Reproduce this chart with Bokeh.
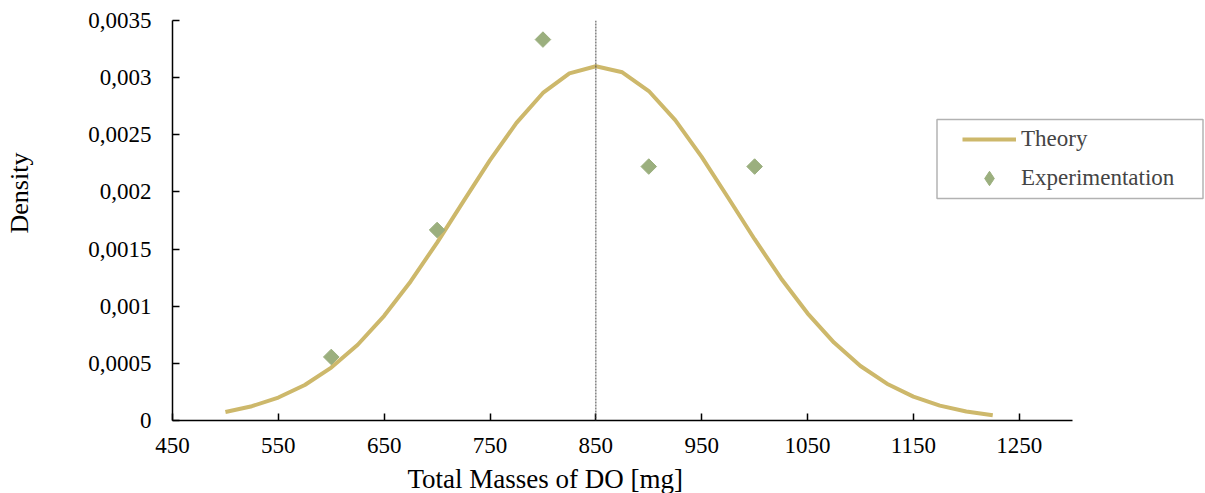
from bokeh.plotting import figure
from bokeh.models import (Legend, LegendItem, Span, Title, FixedTicker, CustomJSTickFormatter,
                          Range1d, LinearAxis, BoxAnnotation)
from bokeh.embed import file_html
from bokeh.resources import INLINE

# Theory curve
theory_x = [500, 525, 550, 575, 600, 625, 650, 675, 700, 725, 750, 775, 800, 825, 850,
            875, 900, 925, 950, 975, 1000, 1025, 1050, 1075, 1100, 1125, 1150, 1175, 1200, 1225]
theory_y = [0.000075, 0.000125, 0.000201, 0.000311, 0.000463, 0.000663, 0.000916, 0.001217,
            0.001557, 0.00192, 0.002278, 0.002604, 0.002866, 0.003037, 0.0031, 0.003047,
            0.002883, 0.002628, 0.002306, 0.001949, 0.001586, 0.001243, 0.000938, 0.000682,
            0.000477, 0.000322, 0.000209, 0.00013, 0.000079, 0.000046]

# Experimental points
exp_x = [600, 700, 800, 900, 1000]
exp_y = [0.000556, 0.001667, 0.003333, 0.002222, 0.002222]

mean_value = 850
x_ticks = [450, 550, 650, 750, 850, 950, 1050, 1150, 1250]
y_ticks = [0, 0.0005, 0.001, 0.0015, 0.002, 0.0025, 0.003, 0.0035]

FONT = "Liberation Serif"
CURVE = "#CDB86B"
POINT = "#9BAF7E"

p = figure(width=1205, height=493, output_backend="svg", toolbar_location=None,
           x_range=Range1d(450, 1426), y_range=Range1d(0, 0.0035),
           min_border_left=172, min_border_right=0, min_border_top=20, min_border_bottom=73)
p.outline_line_color = None
p.xgrid.visible = False
p.ygrid.visible = False

line_r = p.line(theory_x, theory_y, line_color=CURVE, line_width=4)
# diamond marker (used for the legend glyph), hidden under the rotated squares
leg_r = p.scatter(exp_x, exp_y, marker="diamond", size=12, fill_color=POINT, line_color=POINT)
pts_r = p.scatter(exp_x, exp_y, marker="square", size=11, angle=0.785398,
                  fill_color=POINT, line_color=POINT)

p.add_layout(Span(location=mean_value, dimension="height", line_color="#444444",
                  line_dash="2 1", line_width=1))

for ax in (p.xaxis[0], p.yaxis[0]):
    ax.axis_line_color = "black"
    ax.axis_line_width = 1.5
    ax.major_tick_in = 7
    ax.major_tick_out = 0
    ax.major_tick_line_color = "black"
    ax.major_tick_line_width = 1.5
    ax.minor_tick_line_color = None
    ax.major_label_text_font = FONT
    ax.major_label_text_font_size = "23px"
    ax.major_label_text_color = "black"

p.xaxis.ticker = FixedTicker(ticks=x_ticks)
p.xaxis.bounds = (450, 1300)
p.yaxis.ticker = FixedTicker(ticks=y_ticks)
p.xaxis.major_label_standoff = 17
p.yaxis.major_label_standoff = 21
p.yaxis.formatter = CustomJSTickFormatter(code="""
var s = tick.toFixed(4).replace(/0+$/, '').replace(/\\.$/, '');
return s.replace('.', ',');
""")

def spacer(size, tick):
    # invisible axis used only to reserve space in a side panel
    return LinearAxis(ticker=FixedTicker(ticks=[tick]),
                      formatter=CustomJSTickFormatter(code="return '';"),
                      axis_line_color=None, major_label_standoff=0,
                      major_tick_line_color="white", minor_tick_line_color=None,
                      major_tick_in=0, major_tick_out=size)

p.add_layout(spacer(6, 1360), "below")
p.add_layout(Title(text="Total Masses of DO [mg]", align="left", offset=235,
                   text_font=FONT, text_font_size="27px", text_font_style="normal",
                   text_color="black", standoff=0, vertical_align="bottom"), "below")
p.add_layout(spacer(50, 0.0033), "left")
p.add_layout(Title(text="Density", align="left", offset=187,
                   text_font=FONT, text_font_size="26px", text_font_style="normal",
                   text_color="black", standoff=0, vertical_align="top"), "left")

# legend frame (screen units relative to the plot frame)
p.add_layout(BoxAnnotation(left=764.5, right=1030.5, top=301, bottom=222,
                           left_units="screen", right_units="screen",
                           top_units="screen", bottom_units="screen",
                           fill_alpha=0, line_color="black", line_width=1.5))

legend = Legend(items=[LegendItem(label="Theory", renderers=[line_r]),
                       LegendItem(label="Experimentation", renderers=[leg_r])],
                location=(790, 224), label_text_font=FONT, label_text_font_size="23px",
                glyph_width=54, glyph_height=36, label_height=36, label_standoff=5,
                spacing=3, padding=0, margin=0, border_line_color=None,
                background_fill_alpha=0)
p.add_layout(legend, "center")

open("out.html", "w").write(file_html(p, INLINE))
